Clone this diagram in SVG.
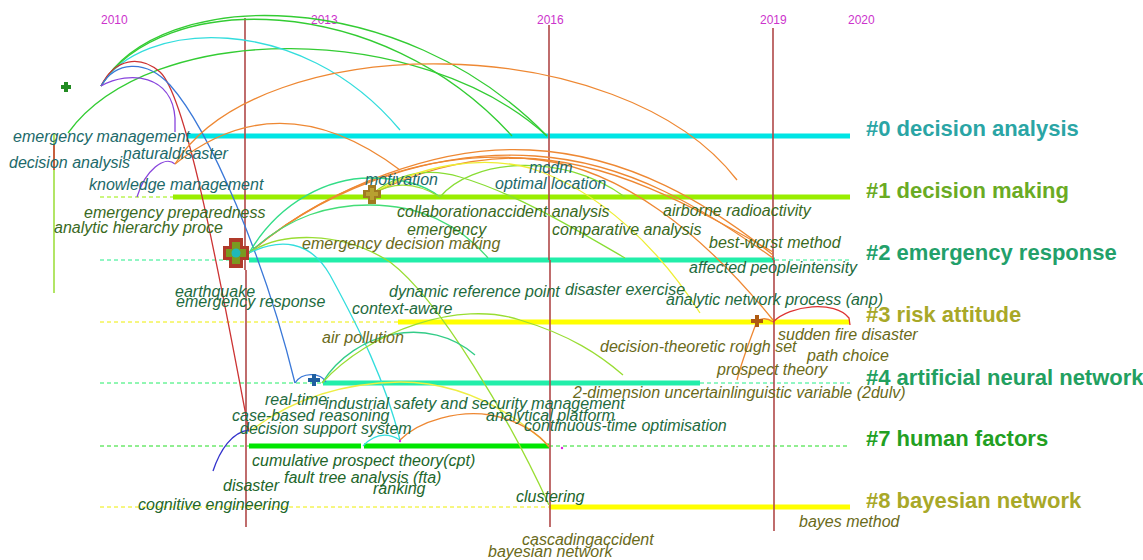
<svg xmlns="http://www.w3.org/2000/svg" width="1143" height="560" viewBox="0 0 1143 560">
<style>
.yr{font-family:"Liberation Sans",Arial,sans-serif;font-size:12px;fill:#cc33cc}
.cl{font-family:"Liberation Sans",Arial,sans-serif;font-size:22px;font-weight:bold}
.kw{font-family:"Liberation Sans",Arial,sans-serif;font-size:16px;font-style:italic}
.teal{fill:#1d6a6a}.dg{fill:#3a6a1e}.sg{fill:#1e6b3e}.ol{fill:#6a6a1a}.gr{fill:#22662a}
.vl{stroke:#b04848;stroke-width:1.6;fill:none}
.dash{stroke-width:1;stroke-dasharray:4 3;fill:none}
.thick{stroke-width:5;fill:none}
.arc{fill:none;stroke-width:1.3}
</style>
<rect width="1143" height="560" fill="#ffffff"/>

<g id="years">
<text class="yr" x="101" y="24">2010</text>
<text class="yr" x="311" y="24">2013</text>
<text class="yr" x="537" y="24">2016</text>
<text class="yr" x="760" y="24">2019</text>
<text class="yr" x="848" y="24">2020</text>
</g>

<g id="timelines">
<g id="cluster-0">
<line class="thick" x1="187" y1="136" x2="850" y2="136" stroke="#00e5e5"/>
<text class="cl" x="866" y="136" fill="#2aa5a5">#0 decision analysis</text>
</g>
<g id="cluster-1">
<line class="dash" x1="100" y1="197" x2="173" y2="197" stroke="#99ee00"/>
<line class="thick" x1="173" y1="197" x2="850" y2="197" stroke="#99ee00"/>
<text class="cl" x="866" y="198" fill="#6aab24">#1 decision making</text>
</g>
<g id="cluster-2">
<line class="dash" x1="100" y1="260" x2="232" y2="260" stroke="#22ee88"/>
<line class="thick" x1="249" y1="260" x2="775" y2="260" stroke="#22eeaa" stroke-width="4.5"/>
<line class="dash" x1="775" y1="260" x2="850" y2="260" stroke="#22ee88"/>
<text class="cl" x="866" y="260" fill="#22a06a">#2 emergency response</text>
</g>
<g id="cluster-3">
<line class="dash" x1="100" y1="322" x2="398" y2="322" stroke="#eeee00"/>
<line class="thick" x1="398" y1="322" x2="850" y2="322" stroke="#ffff00" stroke-width="4.5"/>
<text class="cl" x="866" y="322" fill="#a8a828">#3 risk attitude</text>
</g>
<g id="cluster-4">
<line class="dash" x1="100" y1="383" x2="323" y2="383" stroke="#22ee66"/>
<line class="thick" x1="323" y1="383" x2="700" y2="383" stroke="#22eeaa" stroke-width="4.5"/>
<line class="dash" x1="700" y1="383" x2="850" y2="383" stroke="#22ee88"/>
<text class="cl" x="866" y="385" fill="#22a060">#4 artificial neural network</text>
</g>
<g id="cluster-7">
<line class="dash" x1="100" y1="446" x2="249" y2="446" stroke="#22dd22"/>
<line class="thick" x1="249" y1="446" x2="361" y2="446" stroke="#00e600" stroke-width="4.5"/>
<line class="thick" x1="364" y1="446" x2="549" y2="446" stroke="#00e600" stroke-width="4.5"/>
<line class="dash" x1="549" y1="446" x2="850" y2="446" stroke="#22dd22"/>
<text class="cl" x="866" y="446" fill="#22a022">#7 human factors</text>
</g>
<g id="cluster-8">
<line class="dash" x1="100" y1="507" x2="549" y2="507" stroke="#eeee00"/>
<line class="thick" x1="549" y1="507" x2="850" y2="507" stroke="#ffff00" stroke-width="4.5"/>
<text class="cl" x="866" y="508" fill="#a8a828">#8 bayesian network</text>
</g>
</g>

<g id="year-markers">
<line class="vl" x1="245" y1="18" x2="245" y2="270"/>
<line class="vl" x1="246" y1="270" x2="246" y2="527"/>
<line class="vl" x1="549" y1="25" x2="549" y2="260"/>
<line class="vl" x1="550" y1="260" x2="550" y2="527"/>
<line class="vl" x1="773" y1="28" x2="773" y2="260"/>
<line class="vl" x1="774" y1="260" x2="774" y2="531"/>
<line x1="54" y1="133" x2="54" y2="293" stroke="#99dd33" stroke-width="1.5"/>
<line x1="54" y1="145" x2="54" y2="170" stroke="#cc3333" stroke-width="1.5"/>
</g>

<g id="connectors">
<path class="arc" stroke="#33cc33" d="M101,86 C160,-15 400,-15 547,136"/>
<path class="arc" stroke="#33cc33" d="M101,86 C160,-10 380,-10 512,136"/>
<path class="arc" stroke="#33cc33" d="M68,133 C150,20 420,20 547,136"/>
<path class="arc" stroke="#33dddd" d="M101,86 C140,20 300,10 400,130"/>
<path class="arc" stroke="#cc3333" d="M101,86 C115,58 140,55 160,72 C185,95 215,250 249,432"/>
<path class="arc" stroke="#3a78d8" d="M101,86 C115,62 145,58 170,85 C210,130 265,260 295,383"/>
<path class="arc" stroke="#8844dd" d="M101,86 C130,70 172,75 175,118 L175,132"/>
<path class="arc" stroke="#8844dd" d="M137,197 C145,170 165,155 175,164"/>
<path class="arc" stroke="#ee8833" d="M175,164 C260,28 620,28 737,180"/>
<path class="arc" stroke="#ee8833" d="M175,164 Q280,80 400,170"/>
<path class="arc" stroke="#ee8833" d="M249,253 C330,185 440,145 530,150 C630,155 710,205 773,255"/>
<path class="arc" stroke="#ee8833" d="M249,253 C335,180 445,150 535,156 C630,162 705,210 773,258"/>
<path class="arc" stroke="#ee8833" d="M372,194 C420,170 470,158 520,158 C610,160 690,205 773,252"/>
<path class="arc" stroke="#ee8833" d="M249,253 C340,175 450,148 540,160 C620,170 700,230 773,320"/>
<path class="arc" stroke="#33dd88" d="M249,253 C280,200 330,178 370,178 C400,178 425,185 440,197"/>
<path class="arc" stroke="#44dd77" d="M249,253 C290,215 330,205 370,205 C420,205 460,225 488,258"/>
<path class="arc" stroke="#99dd33" d="M249,253 C280,232 340,230 390,262 C440,300 510,420 549,505"/>
<path class="arc" stroke="#33dddd" d="M249,253 C280,238 310,240 330,275 C360,330 385,380 400,440"/>
<path class="arc" stroke="#33dddd" d="M363,446 Q380,428 400,440"/>
<path class="arc" stroke="#88dd33" d="M440,197 C470,160 560,150 625,197"/>
<path class="arc" stroke="#88dd33" d="M372,194 C400,172 430,168 460,177 C520,195 580,232 625,258"/>
<path class="arc" stroke="#eeee33" d="M372,194 C420,165 480,155 530,168 C600,190 660,250 700,313"/>
<path class="arc" stroke="#99dd33" d="M372,194 Q405,175 440,197"/>
<path class="arc" stroke="#3a78d8" d="M295,383 C302,372 320,372 326,382"/>
<path class="arc" stroke="#33cc88" d="M322,383 C355,330 430,315 475,355"/>
<path class="arc" stroke="#99dd33" d="M322,383 C370,330 460,300 520,320 C570,335 600,355 623,375"/>
<path class="arc" stroke="#eeee44" d="M249,432 C290,400 340,383 400,382 C460,382 510,410 549,446"/>
<path class="arc" stroke="#ee8833" d="M400,440 C420,420 460,410 490,415 C520,420 540,435 549,447"/>
<path class="arc" stroke="#3333cc" d="M213,471 C220,450 232,432 249,430"/>
<path class="arc" stroke="#ee8833" d="M757,321 Q765,316 773,322"/>
<path class="arc" stroke="#ee8833" d="M757,321 C750,340 742,360 737,380"/>
<path class="arc" stroke="#dd3333" d="M773,322 C790,305 835,300 849,318 L850,325"/>
<circle cx="400" cy="441" r="1.2" fill="#dd22dd"/>
<circle cx="562" cy="448" r="1.2" fill="#dd22dd"/>
</g>

<g id="node-green">
<path d="M64,82 h4 v3 h3 v4 h-3 v3 h-4 v-3 h-3 v-4 h3 z" fill="#228b22"/>
</g>
<g id="node-emergency-response">
<path d="M229,238 h14 v8 h6 v14 h-6 v8 h-14 v-8 h-6 v-14 h6 z" fill="#b03a2a"/>
<path d="M232,242 h8 v7 h6 v8 h-6 v7 h-8 v-7 h-6 v-8 h6 z" fill="#7a9a20"/>
<circle cx="236" cy="253" r="4.5" fill="#20b8b8"/>
</g>
<g id="node-motivation">
<path d="M368,185 h8 v5 h5 v8 h-5 v6 h-8 v-6 h-5 v-8 h5 z" fill="#a07a20"/>
<path d="M370,188 h4 v4 h4 v4 h-4 v4 h-4 v-4 h-4 v-4 h4 z" fill="#b8a030"/>
</g>
<g id="node-risk">
<path d="M755,315 h4 v4 h4 v4 h-4 v4 h-4 v-4 h-4 v-4 h4 z" fill="#b05a10"/>
</g>
<g id="node-ann">
<path d="M312,374 h4 v4 h4 v4 h-4 v4 h-4 v-4 h-4 v-4 h4 z" fill="#1f5fa0"/>
</g>

<g id="keywords">
<text class="kw teal" x="13" y="142">emergency management</text>
<text class="kw teal" x="123" y="159">naturaldisaster</text>
<text class="kw teal" x="9" y="168">decision analysis</text>
<text class="kw teal" x="89" y="190">knowledge management</text>
<text class="kw dg" x="84" y="218">emergency preparedness</text>
<text class="kw dg" x="54" y="233">analytic hierarchy proce</text>
<text class="kw teal" x="365" y="185">motivation</text>
<text class="kw teal" x="529" y="173">mcdm</text>
<text class="kw teal" x="495" y="189">optimal location</text>
<text class="kw dg" x="397" y="217">collaborationaccident analysis</text>
<text class="kw dg" x="407" y="235">emergency</text>
<text class="kw dg" x="552" y="235">comparative analysis</text>
<text class="kw dg" x="663" y="216">airborne radioactivity</text>
<text class="kw dg" x="709" y="248">best-worst method</text>
<text class="kw ol" x="302" y="249">emergency decision making</text>
<text class="kw sg" x="175" y="297">earthquake</text>
<text class="kw sg" x="176" y="307">emergency response</text>
<text class="kw sg" x="689" y="273">affected peopleintensity</text>
<text class="kw sg" x="389" y="297">dynamic reference point</text>
<text class="kw sg" x="565" y="295">disaster exercise</text>
<text class="kw sg" x="666" y="305">analytic network process (anp)</text>
<text class="kw sg" x="352" y="314">context-aware</text>
<text class="kw ol" x="322" y="343">air pollution</text>
<text class="kw ol" x="600" y="352">decision-theoretic rough set</text>
<text class="kw ol" x="778" y="340">sudden fire disaster</text>
<text class="kw ol" x="807" y="361">path choice</text>
<text class="kw ol" x="717" y="375">prospect theory</text>
<text class="kw ol" x="573" y="398">2-dimension uncertainlinguistic variable (2dulv)</text>
<text class="kw sg" x="265" y="405">real-time</text>
<text class="kw sg" x="325" y="409">industrial safety and security management</text>
<text class="kw sg" x="232" y="421">case-based reasoning</text>
<text class="kw sg" x="486" y="421">analytical platform</text>
<text class="kw sg" x="240" y="434">decision support system</text>
<text class="kw sg" x="524" y="431">continuous-time optimisation</text>
<text class="kw gr" x="252" y="466">cumulative prospect theory(cpt)</text>
<text class="kw gr" x="284" y="483">fault tree analysis (fta)</text>
<text class="kw gr" x="373" y="494">ranking</text>
<text class="kw gr" x="223" y="491">disaster</text>
<text class="kw gr" x="138" y="510">cognitive engineering</text>
<text class="kw gr" x="516" y="502">clustering</text>
<text class="kw ol" x="799" y="527">bayes method</text>
<text class="kw ol" x="522" y="545">cascadingaccident</text>
<text class="kw ol" x="488" y="557">bayesian network</text>
</g>
</svg>
